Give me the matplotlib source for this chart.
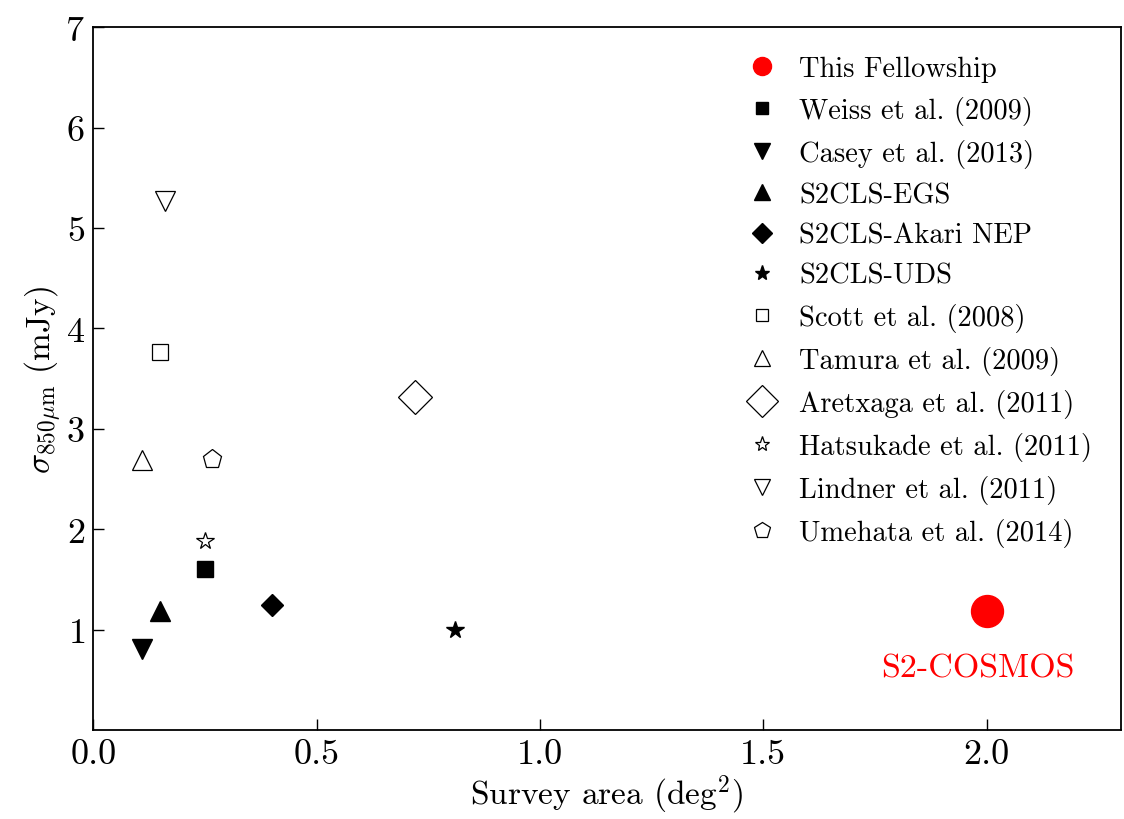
import matplotlib
matplotlib.use("Agg")
import matplotlib.pyplot as plt
from matplotlib.lines import Line2D

plt.rcParams["font.family"] = "serif"
plt.rcParams["font.serif"] = ["cmr10"]
plt.rcParams["mathtext.fontset"] = "cm"
plt.rcParams["axes.formatter.use_mathtext"] = True

# Survey data: label, area (deg^2), sigma_850 (mJy)
labels = [
    "This Fellowship", "Weiss et al. (2009)", "Casey et al. (2013)",
    "S2CLS-EGS", "S2CLS-Akari NEP", "S2CLS-UDS", "Scott et al. (2008)",
    "Tamura et al. (2009)", "Aretxaga et al. (2011)",
    "Hatsukade et al. (2011)", "Lindner et al. (2011)", "Umehata et al. (2014)",
]
areas = [2.0, 0.25, 0.11, 0.15, 0.40, 0.81, 0.15, 0.11, 0.72, 0.25, 0.16, 0.265]
sigmas = [1.19, 1.6, 0.81, 1.19, 1.25, 1.0, 3.77, 2.69, 3.32, 1.88, 5.27, 2.70]

markers = ["o", "s", "v", "^", "D", "*", "s", "^", "D", "*", "v", "p"]
filled = [True] * 6 + [False] * 6
sizes = [23, 11, 14, 14, 11, 13, 11, 14, 17, 13, 14, 14]
legend_sizes = [13, 9, 12, 12, 10, 11, 9, 12, 16, 11, 12, 12]

fig = plt.figure(figsize=(11.24, 8.2), dpi=100)
ax = fig.add_axes([0.083, 0.1085, 0.914, 0.857])

handles = []
for i in range(len(labels)):
    color = "red" if i == 0 else "black"
    face = color if filled[i] else "none"
    ax.plot(areas[i], sigmas[i], linestyle="none", marker=markers[i],
            markersize=sizes[i], markerfacecolor=face,
            markeredgecolor=color, markeredgewidth=1.0 if filled[i] else 0.9)
    handles.append(Line2D([], [], linestyle="none", marker=markers[i],
                          markersize=legend_sizes[i], markerfacecolor=face,
                          markeredgecolor=color, markeredgewidth=1.0 if filled[i] else 0.9,
                          label=labels[i]))

ax.text(1.98, 0.62, "S2-COSMOS", color="red", fontsize=24.5,
        ha="center", va="center")

ax.set_xlim(0, 2.3)
ax.set_ylim(0, 7)
ax.set_xticks([0.0, 0.5, 1.0, 1.5, 2.0])
ax.set_xticklabels(["0.0", "0.5", "1.0", "1.5", "2.0"])
ax.set_yticks([1, 2, 3, 4, 5, 6, 7])
ax.tick_params(direction="in", labelsize=26, length=8, width=1, pad=6,
               top=False, right=False)
ax.set_xlabel(r"Survey area (deg$^2$)", fontsize=24, labelpad=2)
ax.set_ylabel(r"$\sigma_{850\mu{\rm m}}$ (mJy)", fontsize=24, labelpad=2)

for s in ax.spines.values():
    s.set_linewidth(1.3)

ax.legend(handles=handles, loc="upper right", frameon=False, fontsize=20.5,
          numpoints=1, labelspacing=0.49, handletextpad=0.7,
          borderaxespad=0.6, handlelength=1.2)

fig.savefig("out.png", dpi=100)
